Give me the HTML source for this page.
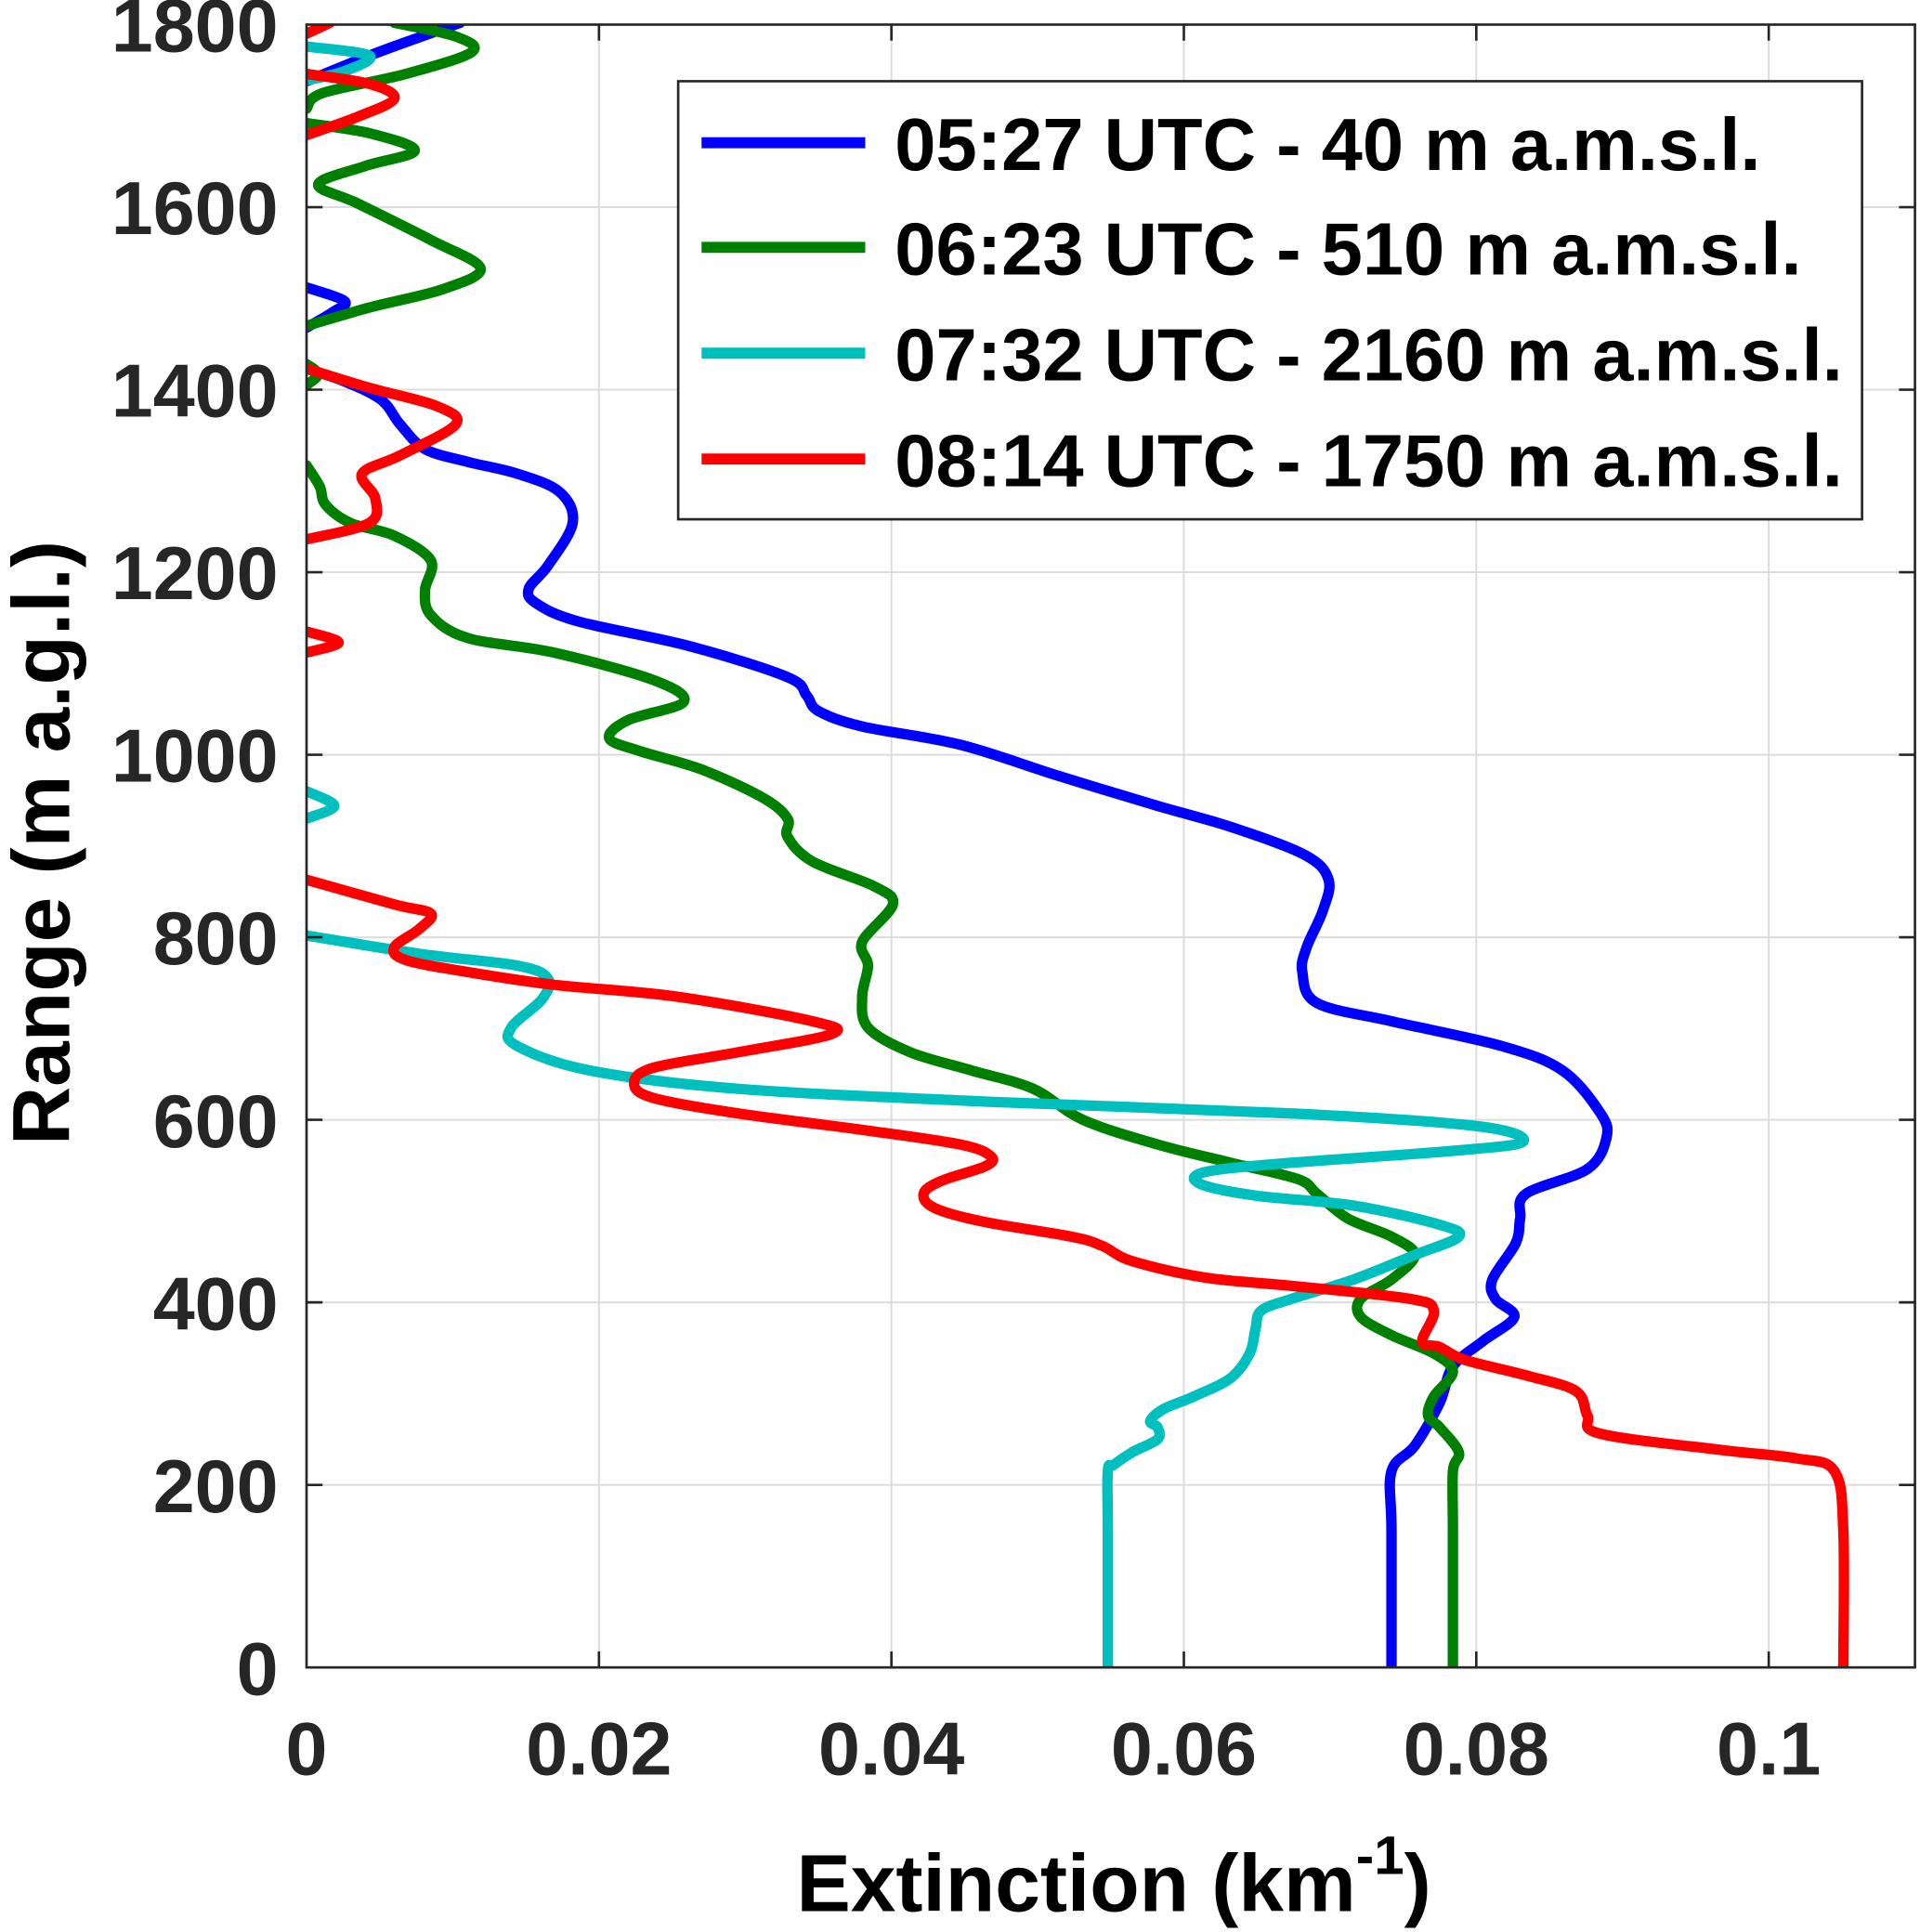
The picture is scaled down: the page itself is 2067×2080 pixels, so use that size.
<!DOCTYPE html>
<html><head><meta charset="utf-8"><style>
html,body{margin:0;padding:0;background:#fff;}
svg{display:block;}
text{font-family:"Liberation Sans",Arial,sans-serif;font-weight:bold;fill:#262626;}
</style></head><body>
<svg id="chart" width="2067" height="2080" viewBox="0 0 1560 1570" xmlns="http://www.w3.org/2000/svg">
<defs><clipPath id="clip"><rect x="249" y="20" width="1307" height="1335"/></clipPath></defs>
<rect x="0" y="0" width="1560" height="1570" fill="#fff"/>
<g id="grid"></g>
<g id="series" clip-path="url(#clip)"></g>
<rect x="249" y="20" width="1307" height="1335" fill="none" stroke="#262626" stroke-width="2"/>
<g id="ticks"></g>
<text x="905" y="1553" font-size="66" text-anchor="middle" style="fill:#000">Extinction (km<tspan dy="-30" font-size="44">-1</tspan><tspan dy="30">)</tspan></text>
<text transform="translate(56,685) rotate(-90)" font-size="66" text-anchor="middle" style="fill:#000">Range (m a.g.l.)</text>
<g>
<rect x="551" y="66" width="962" height="356" fill="#fff" stroke="#262626" stroke-width="2"/>
<g id="legend-items"></g>
</g>
</svg>
<script>
// axes
const xTicks=[0,0.02,0.04,0.06,0.08,0.1];
const xTickLabels=["0","0.02","0.04","0.06","0.08","0.1"];
const yTicks=[0,200,400,600,800,1000,1200,1400,1600,1800];
const yTickLabels=["0","200","400","600","800","1000","1200","1400","1600","1800"];
// series data: range (m) and extinction (km^-1), per segment
const blueRange1=[0,150,215,243,290,330,358,384,404,425,465,492,519,546,580,607,654,681,708,728,762,789,829,863,890,921,944,977,1011,1031,1048,1065,1085,1119,1146,1166,1182,1207,1254,1288,1308,1321,1335,1362,1389,1409,1423];
const blueExt1=[0.0742,0.0742,0.0742,0.0758,0.0775,0.0784,0.0805,0.0826,0.0813,0.0811,0.0827,0.0830,0.0834,0.0876,0.0889,0.0885,0.0859,0.0817,0.0742,0.0691,0.0681,0.0684,0.0695,0.0699,0.0683,0.0632,0.0582,0.0514,0.0447,0.0380,0.0350,0.0342,0.0329,0.0262,0.0186,0.0157,0.0152,0.0165,0.0182,0.0173,0.0144,0.0110,0.0081,0.0064,0.0051,0.0026,0];
const blueRange2=[1468,1485,1497,1512];
const blueExt2=[0,0.0018,0.0026,0];
const blueRange3=[1738,1766,1786,1802];
const blueExt3=[0,0.0043,0.0077,0.0105];
const greenRange1=[0,150,215,236,263,276,297,324,344,364,384,404,425,452,472,492,519,535,553,573,600,634,654,674,701,735,769,795,836,856,883,910,930,953,984,1004,1018,1038,1058,1082,1112,1128,1153,1180,1213,1240,1254,1274,1294,1317];
const greenExt1=[0.0784,0.0784,0.0784,0.0788,0.0775,0.0767,0.0771,0.0784,0.0771,0.0742,0.0721,0.0721,0.0742,0.0758,0.0742,0.0712,0.0691,0.0678,0.0632,0.0582,0.0531,0.0497,0.0455,0.0413,0.0384,0.0380,0.0384,0.0380,0.0401,0.0388,0.0346,0.0329,0.0329,0.0312,0.0270,0.0228,0.0207,0.0220,0.0258,0.0237,0.0169,0.0110,0.0085,0.0081,0.0085,0.0060,0.0030,0.0013,0.0009,0];
const greenRange2=[1405,1417,1428];
const greenExt2=[0,0.0008,0];
const greenRange3=[1470,1490,1510,1533,1564,1604,1625,1645,1662,1681,1692];
const greenExt3=[0,0.0043,0.0093,0.0119,0.0085,0.0035,0.0008,0.0040,0.0074,0.0043,0];
const greenRange4=[1708,1725,1746,1770,1787,1802];
const greenExt4=[0,0.0011,0.0068,0.0113,0.0102,0.0060];
const cyanRange1=[0,150,215,222,236,250,263,270,283,297,317,344,371,391,404,425,452,472,485,506,517,530,543,553,566,576,593,607,620,634,654,681,701,732,755,769,782,802];
const cyanExt1=[0.0548,0.0548,0.0548,0.0552,0.0565,0.0582,0.0582,0.0577,0.0586,0.0607,0.0632,0.0645,0.0649,0.0653,0.0674,0.0716,0.0758,0.0788,0.0775,0.0716,0.0649,0.0611,0.0615,0.0674,0.0784,0.0832,0.0801,0.0674,0.0464,0.0295,0.0194,0.0144,0.0140,0.0161,0.0165,0.0144,0.0077,0];
const cyanRange2=[930,944,960];
const cyanExt2=[0,0.0019,0];
const cyanRange3=[1739,1749,1766,1776];
const cyanExt3=[0,0.0026,0.0043,0];
const redRange1=[0,150,215,229,238,256,276,303,320,337,351,357,391,404,418,427,445,462,472,488,503,519,533,549,560,573,589,607,624,640,657,674,694,708,735,748,762,775,789,809,826,836,863];
const redExt1=[0.1051,0.1051,0.1045,0.1019,0.0969,0.0885,0.0876,0.0868,0.0834,0.0792,0.0775,0.0763,0.0771,0.0754,0.0674,0.0615,0.0565,0.0544,0.0523,0.0464,0.0430,0.0422,0.0434,0.0464,0.0468,0.0447,0.0380,0.0295,0.0237,0.0224,0.0237,0.0295,0.0359,0.0346,0.0253,0.0169,0.0110,0.0068,0.0060,0.0077,0.0085,0.0060,0];
const redRange2=[1112,1123,1135];
const redExt2=[0,0.0022,0];
const redRange3=[1236,1254,1281,1308,1328,1362,1382,1402,1423];
const redExt3=[0,0.0043,0.0047,0.0038,0.0064,0.0102,0.0089,0.0043,0];
const redRange4=[1679,1699,1719,1735,1746];
const redExt4=[0,0.0035,0.0060,0.0043,0];
const redRange5=[1790,1802];
const redExt5=[0,0.0016];
const legendLabels=["05:27 UTC - 40 m a.m.s.l.","06:23 UTC - 510 m a.m.s.l.","07:32 UTC - 2160 m a.m.s.l.","08:14 UTC - 1750 m a.m.s.l."];

const NS="http://www.w3.org/2000/svg";
const X0=249,X1=1556,Y0=1355,Y1=20,XMAX=0.11,YMAX=1800;
function xs(v){return X0+(v/XMAX)*(X1-X0);}
function ys(v){return Y0-(v/YMAX)*(Y0-Y1);}
const grid=document.getElementById('grid'),ticks=document.getElementById('ticks');
xTicks.forEach((t,i)=>{
  const x=xs(t);
  if(t>0){const g=document.createElementNS(NS,'line');
  
  
  g.setAttribute('x1',x);g.setAttribute('x2',x);g.setAttribute('y1',Y1);g.setAttribute('y2',Y0);
  g.setAttribute('stroke','#dcdcdc');g.setAttribute('stroke-width','1.5');grid.appendChild(g);
  ['b','t'].forEach(s=>{const k=document.createElementNS(NS,'line');
  
  
  k.setAttribute('x1',x);k.setAttribute('x2',x);
  if(s==='b'){k.setAttribute('y1',Y0);k.setAttribute('y2',Y0-13);}else{k.setAttribute('y1',Y1);k.setAttribute('y2',Y1+13);}
  k.setAttribute('stroke','#262626');k.setAttribute('stroke-width','2');ticks.appendChild(k);});}
  const tx=document.createElementNS(NS,'text');
  
  
  tx.setAttribute('x',x);tx.setAttribute('y',1442);tx.setAttribute('font-size','61');tx.setAttribute('text-anchor','middle');
  tx.textContent=xTickLabels[i];ticks.appendChild(tx);
});
yTicks.forEach((t,i)=>{
  const y=ys(t);
  if(t>0&&t<YMAX){const g=document.createElementNS(NS,'line');
  
  
  g.setAttribute('x1',X0);g.setAttribute('x2',X1);g.setAttribute('y1',y);g.setAttribute('y2',y);
  g.setAttribute('stroke','#dcdcdc');g.setAttribute('stroke-width','1.5');grid.appendChild(g);
  ['l','r'].forEach(s=>{const k=document.createElementNS(NS,'line');
  
  
  k.setAttribute('y1',y);k.setAttribute('y2',y);
  if(s==='l'){k.setAttribute('x1',X0);k.setAttribute('x2',X0+13);}else{k.setAttribute('x1',X1);k.setAttribute('x2',X1-13);}
  k.setAttribute('stroke','#262626');k.setAttribute('stroke-width','2');ticks.appendChild(k);});}
  const tx=document.createElementNS(NS,'text');
  
  
  tx.setAttribute('x',226);tx.setAttribute('y',y+22);tx.setAttribute('font-size','61');tx.setAttribute('text-anchor','end');
  tx.textContent=yTickLabels[i];ticks.appendChild(tx);
});
function pathFrom(rs,es){
  const p=rs.map((r,i)=>[xs(es[i]),ys(r)]);
  let d='M'+p[0][0]+','+p[0][1];
  for(let i=0;i<p.length-1;i++){
    const a=p[Math.max(0,i-1)],b=p[i],c=p[i+1],e=p[Math.min(p.length-1,i+2)];
    const c1=[b[0]+(c[0]-a[0])/6,b[1]+(c[1]-a[1])/6],c2=[c[0]-(e[0]-b[0])/6,c[1]-(e[1]-b[1])/6];
    d+=' C'+c1[0]+','+c1[1]+' '+c2[0]+','+c2[1]+' '+c[0]+','+c[1];
  }
  return d;
}
const sg=document.getElementById('series');
const seriesDefs=[
  ['blue','#0000ff',[[blueRange1,blueExt1],[blueRange2,blueExt2],[blueRange3,blueExt3]]],
  ['green','#008000',[[greenRange1,greenExt1],[greenRange2,greenExt2],[greenRange3,greenExt3],[greenRange4,greenExt4]]],
  ['cyan','#00bfbf',[[cyanRange1,cyanExt1],[cyanRange2,cyanExt2],[cyanRange3,cyanExt3]]],
  ['red','#ff0000',[[redRange1,redExt1],[redRange2,redExt2],[redRange3,redExt3],[redRange4,redExt4],[redRange5,redExt5]]]
];
seriesDefs.forEach(([nm,col,segs])=>{
  segs.forEach(([r,e])=>{
    const pa=document.createElementNS(NS,'path');
    
    
    pa.setAttribute('d',pathFrom(r,e));pa.setAttribute('fill','none');pa.setAttribute('stroke',col);
    pa.setAttribute('stroke-width','8.5');pa.setAttribute('stroke-linejoin','round');pa.setAttribute('stroke-linecap','round');
    sg.appendChild(pa);
  });
});
const li=document.getElementById('legend-items');
const legY=[116,201,287,373];
seriesDefs.forEach(([nm,col],i)=>{
  const l=document.createElementNS(NS,'line');
  
  
  l.setAttribute('x1',570);l.setAttribute('x2',703);l.setAttribute('y1',legY[i]);l.setAttribute('y2',legY[i]);
  l.setAttribute('stroke',col);l.setAttribute('stroke-width','9');li.appendChild(l);
  const t=document.createElementNS(NS,'text');
  
  
  t.setAttribute('x',727);t.setAttribute('y',legY[i]+22);t.setAttribute('font-size','60');
  t.setAttribute('style','fill:#000');
  t.textContent=legendLabels[i];li.appendChild(t);
});
</script>
</body></html>
